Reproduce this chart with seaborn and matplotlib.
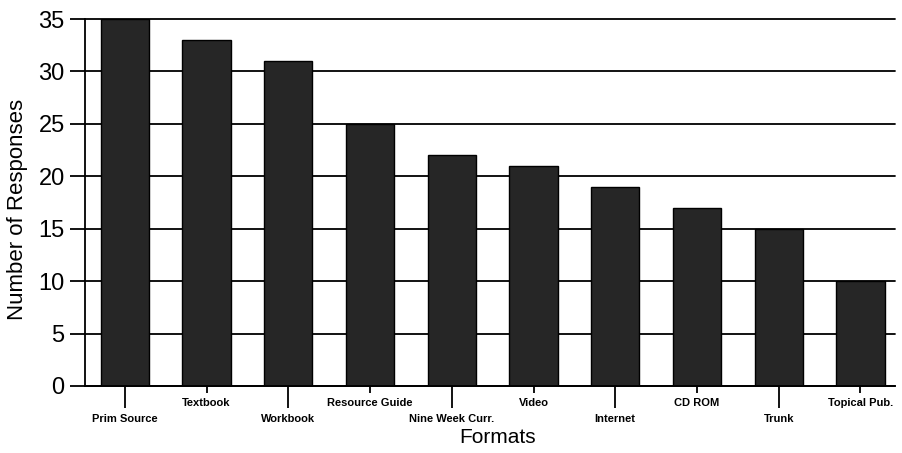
import matplotlib
matplotlib.use("Agg")
import matplotlib.pyplot as plt
import seaborn as sns
import pandas as pd

formats = ["Prim Source", "Textbook", "Workbook", "Resource Guide", "Nine Week Curr.",
           "Video", "Internet", "CD ROM", "Trunk", "Topical Pub."]
responses = [35, 33, 31, 25, 22, 21, 19, 17, 15, 10]
y_ticks = [0, 5, 10, 15, 20, 25, 30, 35]

sns.set_style("white")
plt.rcParams["font.family"] = ["Liberation Sans", "DejaVu Sans"]
plt.rcParams["text.color"] = "black"
plt.rcParams["axes.labelcolor"] = "black"
plt.rcParams["xtick.color"] = "black"
plt.rcParams["ytick.color"] = "black"

df = pd.DataFrame({"Formats": formats, "Responses": responses})

fig = plt.figure(figsize=(9.02, 4.53), dpi=100)
ax = fig.add_axes([0.094, 0.148, 0.898, 0.81])

sns.barplot(data=df, x="Formats", y="Responses", color="#262626", saturation=1,
            width=0.59, edgecolor="black", linewidth=1, ax=ax)

ax.set_ylim(0, 35)
ax.set_xlim(-0.49, 9.42)
ax.set_yticks(y_ticks)
ax.set_yticklabels([str(v) for v in y_ticks], fontsize=17)
ax.tick_params(axis="y", direction="out", length=11, width=1.3, pad=3.5, left=True)

# staggered category labels: even positions hang low on long ticks, odd ones sit high
low_pos = list(range(0, len(formats), 2))
high_pos = list(range(1, len(formats), 2))
ax.set_xticks(low_pos)
ax.set_xticklabels([formats[i] for i in low_pos], fontsize=8, fontweight="bold")
ax.set_xticks(high_pos, minor=True)
ax.set_xticklabels([formats[i] for i in high_pos], minor=True, fontsize=8, fontweight="bold")
ax.tick_params(axis="x", which="major", direction="out", length=16, width=1.3, pad=4, bottom=True)
ax.tick_params(axis="x", which="minor", direction="out", length=5, width=1.3, pad=3.5, bottom=True)

ax.yaxis.grid(True, color="black", linewidth=1.3)
ax.xaxis.grid(False)
ax.set_axisbelow(True)
for gl in ax.get_ygridlines():
    gl.set_clip_on(False)

for side in ["top", "right"]:
    ax.spines[side].set_visible(False)
for side in ["left", "bottom"]:
    ax.spines[side].set_visible(True)
    ax.spines[side].set_color("black")
    ax.spines[side].set_linewidth(1.3)

ax.set_xlabel("Formats", fontsize=15)
ax.xaxis.set_label_coords(0.51, -0.14)
ax.xaxis.label.set_verticalalignment("center")
ax.set_ylabel("Number of Responses", fontsize=16)
ax.yaxis.set_label_coords(-0.083, 0.48)
ax.yaxis.label.set_verticalalignment("center")

fig.savefig("out.png", dpi=100, facecolor="white")
